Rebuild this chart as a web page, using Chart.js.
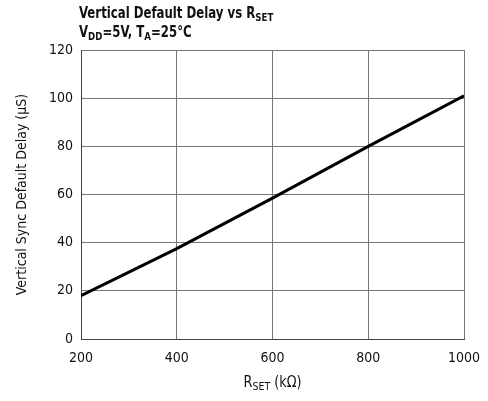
<!DOCTYPE html>
<html>
<head>
<meta charset="utf-8">
<script src="https://cdn.jsdelivr.net/npm/chart.js@4.4.0/dist/chart.umd.min.js"></script>
<style>
  html, body { margin: 0; padding: 0; background: #fff; }
  #wrap { width: 488px; height: 401px; position: relative; }
</style>
</head>
<body>
<div id="wrap"><canvas id="c" width="488" height="401"></canvas></div>
<script>
// ---- data ----
const rsetValues = [200, 400, 600, 800, 1000];          // kΩ
const delayValues = [18, 37.5, 58.5, 80, 101];           // µS
const xTicks = [200, 400, 600, 800, 1000];
const yTicks = [0, 20, 40, 60, 80, 100, 120];
const titleLine1 = [{ t: 'Vertical Default Delay vs R' }, { t: 'SET', sub: true }];
const titleLine2 = [{ t: 'V' }, { t: 'DD', sub: true }, { t: '=5V, T' }, { t: 'A', sub: true }, { t: '=25°C' }];
const xTitle = [{ t: 'R' }, { t: 'SET', sub: true }, { t: ' (kΩ)' }];
const yTitle = 'Vertical Sync Default Delay (µS)';

const FAM = "'Liberation Sans Narrow', 'DejaVu Sans Condensed', sans-serif";

function drawRich(ctx, x, y, parts, size, weight, align, sx) {
  const subSize = Math.round(size * 0.72);
  let total = 0;
  parts.forEach(p => {
    ctx.font = weight + ' ' + (p.sub ? subSize : size) + 'px ' + FAM;
    total += ctx.measureText(p.t).width;
  });
  ctx.save();
  ctx.translate(x, y);
  ctx.scale(sx, 1);
  let cx = align === 'center' ? -total / 2 : 0;
  ctx.textBaseline = 'alphabetic';
  ctx.textAlign = 'left';
  parts.forEach(p => {
    ctx.font = weight + ' ' + (p.sub ? subSize : size) + 'px ' + FAM;
    ctx.fillText(p.t, cx, p.sub ? size * 0.22 : 0);
    cx += ctx.measureText(p.t).width;
  });
  ctx.restore();
}

const textPlugin = {
  id: 'richText',
  afterDraw(chart) {
    const ctx = chart.ctx;
    const area = chart.chartArea;
    ctx.save();
    ctx.fillStyle = '#111';
    drawRich(ctx, 79, 18, titleLine1, 15, 'bold', 'left', 0.87);
    drawRich(ctx, 79, 37, titleLine2, 15, 'bold', 'left', 0.87);
    drawRich(ctx, (area.left + area.right) / 2, 387, xTitle, 15, 'normal', 'center', 0.95);
    ctx.restore();
  }
};

new Chart(document.getElementById('c'), {
  type: 'line',
  data: {
    datasets: [{
      data: rsetValues.map((x, i) => ({ x: x, y: delayValues[i] })),
      borderColor: '#000',
      borderWidth: 3,
      pointRadius: 0,
      tension: 0,
      fill: false
    }]
  },
  options: {
    responsive: false,
    animation: false,
    devicePixelRatio: 1,
    layout: { padding: { left: 0, right: 24, top: 50, bottom: 0 } },
    plugins: { legend: { display: false }, tooltip: { enabled: false }, title: { display: false } },
    scales: {
      x: {
        type: 'linear',
        min: 200, max: 1000,
        afterBuildTicks: s => { s.ticks = xTicks.map(v => ({ value: v })); },
        afterFit: s => { s.height = 62; s.paddingRight = 0; s.paddingLeft = 0; },
        grid: { color: '#777', lineWidth: 1, drawTicks: false },
        border: { color: '#444', width: 1 },
        ticks: { color: '#111', padding: 11, font: { family: FAM, size: 14 }, maxRotation: 0, autoSkip: false,
                 callback: v => String(v) }
      },
      y: {
        min: 0, max: 120,
        afterBuildTicks: s => { s.ticks = yTicks.map(v => ({ value: v })); },
        afterFit: s => { s.width = 81; s.paddingTop = 0; s.paddingBottom = 0; },
        grid: { color: '#777', lineWidth: 1, drawTicks: false },
        border: { color: '#444', width: 1 },
        ticks: { color: '#111', padding: 8, font: { family: FAM, size: 14 }, callback: v => String(v) },
        title: { display: true, text: yTitle, color: '#111', font: { family: FAM, size: 14 }, padding: { top: 14, bottom: 0 } }
      }
    }
  },
  plugins: [textPlugin]
});
</script>
</body>
</html>
